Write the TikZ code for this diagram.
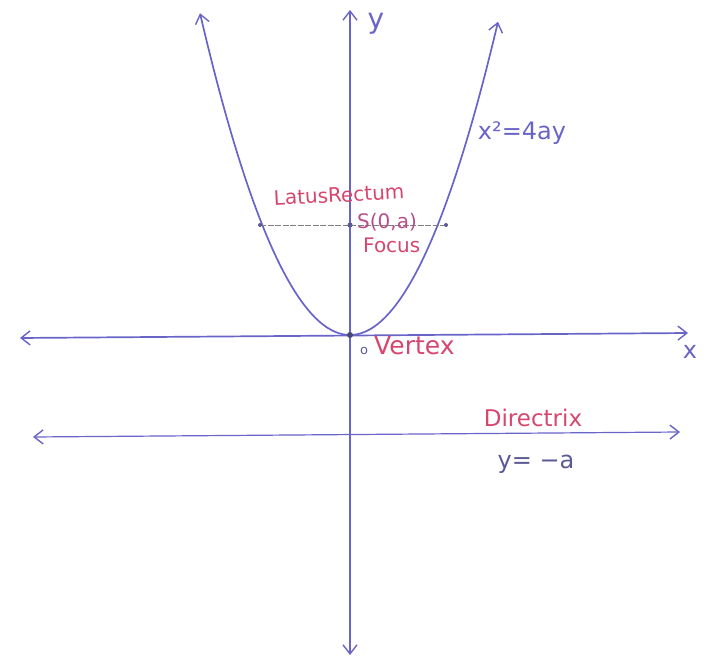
\documentclass[tikz,border=0pt]{standalone}
\usepackage{fontspec}
\setmainfont{DejaVu Sans}
\usetikzlibrary{arrows.meta}
\definecolor{penblue}{RGB}{105,100,200}
\definecolor{penpink}{RGB}{215,70,110}
\definecolor{pendark}{RGB}{90,90,150}
\tikzset{
  pen/.style={draw=penblue, line width=1.7pt, line cap=round},
  tips/.style={{Straight Barb[length=9pt,width=14pt,line width=1.4pt]}-{Straight Barb[length=9pt,width=14pt,line width=1.4pt]}},
  pinklbl/.style={text=penpink, inner sep=0pt},
  bluelbl/.style={text=penblue, inner sep=0pt},
  darklbl/.style={text=pendark, inner sep=0pt},
  dot/.style={circle, fill=pendark, inner sep=0pt, minimum size=5pt},
}
\newcommand{\fs}[1]{\fontsize{#1}{#1}\selectfont}
\begin{document}
\begin{tikzpicture}[x=1pt,y=-1pt]
\useasboundingbox (0,0) rectangle (709,660);
% coordinates
\coordinate (O) at (350,335);
\coordinate (ytop) at (350,10);
\coordinate (ybot) at (350,655);
\coordinate (xl) at (20,338);
\coordinate (xr) at (688,333);
\coordinate (dl) at (33,437);
\coordinate (dr) at (680,432);
\coordinate (LL) at (260,225);
\coordinate (LR) at (446,225);
% axes
\draw[pen, tips] (ybot) -- (ytop);
\draw[pen, tips] (xl) -- (xr);
% directrix
\draw[pen, line width=1.2pt, tips] (dl) -- (dr);
% parabola
\draw[pen, tips]
  plot[domain=-15:14.8, samples=80, smooth] ({350+10*\x},{335-1.43*\x*\x});
% latus rectum
\draw[draw=gray, line width=0.8pt, dash pattern=on 6pt off 1.5pt] (LL) -- (LR);
\node[dot, minimum size=4pt] (pL) at (LL) {};
\node[dot, minimum size=4pt] (pR) at (LR) {};
\node[dot] (S) at (350,225) {};
\node[dot, fill=pendark!80!black, minimum size=6pt] (V) at (O) {};
% labels
\node[pinklbl, font=\fs{20}, rotate=3] (lr) at (339,195) {LatusRectum};
\node[pinklbl, font=\fs{20}, text=penpink!70!penblue, anchor=west] (sl) at (357,222) {S(0,a)};
\node[pinklbl, font=\fs{20}, anchor=west] (fl) at (363,245) {Focus};
\node[pinklbl, font=\fs{25}, anchor=west] (vl) at (374,346) {Vertex};
\node[darklbl, font=\fs{13}] (ol) at (364,351) {o};
\node[pinklbl, font=\fs{23}] (dirl) at (533,418) {Directrix};
\node[darklbl, font=\fs{24}] (eq2) at (536,464) {y= −a};
\node[bluelbl, font=\fs{24}] (eq1) at (522,133) {x²=4ay};
\node[bluelbl, font=\fs{28}] (ylbl) at (376,24) {y};
\node[bluelbl, font=\fs{24}] (xlbl) at (690,352) {x};
\end{tikzpicture}
\end{document}
